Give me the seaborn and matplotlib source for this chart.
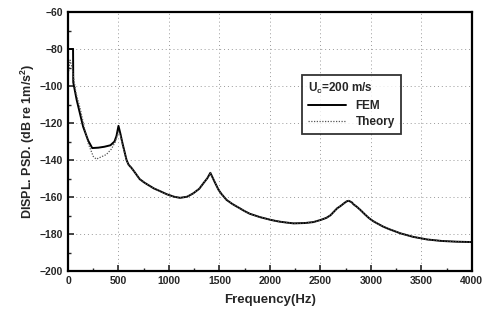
import numpy as np
import pandas as pd
import seaborn as sns
import matplotlib
matplotlib.use("Agg")
import matplotlib.pyplot as plt
from matplotlib.ticker import MultipleLocator

# FEM curve
fem_freq = [0, 50, 52, 86, 150, 200, 240, 300, 360, 420, 460, 480, 500, 520, 540,
            580, 600, 630, 660, 710, 760, 850, 900, 980, 1050, 1110, 1180, 1240, 1300,
            1340, 1380, 1410, 1450, 1490, 1520, 1570, 1630, 1700, 1750, 1800, 1900,
            2000, 2050, 2100, 2170, 2235, 2350, 2430, 2500, 2560, 2600, 2665, 2700,
            2730, 2760, 2781, 2810, 2830, 2860, 2897, 2940, 2980, 3020, 3062, 3120,
            3180, 3240, 3294, 3360, 3420, 3490, 3558, 3630, 3700, 3850, 4000]
fem_db = [-80, -80, -98, -107.5, -122, -129.5, -133.5, -133.3, -132.8, -132, -130,
          -127, -121.5, -126, -131, -140, -142.5, -144.3, -146.5, -150.3, -152.3,
          -155.3, -156.5, -158.5, -159.8, -160.4, -159.8, -158, -155.5, -152.6,
          -149.8, -146.9, -151.5, -156, -158.3, -161.5, -163.8, -166, -167.6, -169,
          -170.8, -172.2, -172.8, -173.3, -173.8, -174.2, -174, -173.5, -172.4,
          -171.2, -169.8, -166.1, -164.8, -163.5, -162.3, -162, -162.8, -164, -165.2,
          -167, -169.3, -171.3, -172.9, -174.2, -175.9, -177.3, -178.5, -179.6,
          -180.6, -181.5, -182.2, -182.9, -183.3, -183.7, -184.1, -184.3]

# Theory curve below ~550 Hz; above that it lies on the FEM curve
theory_low_freq = [0, 20, 40, 80, 120, 160, 200, 250, 280, 320, 380, 430, 470, 500,
                   520, 550]
theory_low_db = [-95, -86, -90, -104, -112, -122, -131, -138, -139.5, -138.5, -137,
                 -134, -130, -124.5, -127, -134]

sns.set_style("ticks")
plt.rcParams['font.family'] = ['Liberation Sans', 'DejaVu Sans']
plt.rcParams['font.weight'] = 'bold'
plt.rcParams['mathtext.fontset'] = 'custom'
plt.rcParams['mathtext.bf'] = 'Liberation Sans:bold'
plt.rcParams['mathtext.rm'] = 'Liberation Sans:bold'

fem = pd.DataFrame({'f': fem_freq, 'db': fem_db})
theory = pd.concat([pd.DataFrame({'f': theory_low_freq, 'db': theory_low_db}),
                    fem[fem['f'] > 570]], ignore_index=True)

fig = plt.figure(figsize=(4.91, 3.12), dpi=100)
ax = fig.add_axes([0.1385, 0.131, 0.8225, 0.8305])

sns.lineplot(data=fem, x='f', y='db', ax=ax, color='black', lw=1.4,
             label='FEM', sort=False, estimator=None)
sns.lineplot(data=theory, x='f', y='db', ax=ax, color='#555555', lw=0.9,
             linestyle=(0, (1, 1.2)), label='Theory', sort=False, estimator=None)

ax.set_xlim(0, 4000)
ax.set_ylim(-200, -60)
ax.xaxis.set_major_locator(MultipleLocator(500))
ax.xaxis.set_minor_locator(MultipleLocator(250))
ax.yaxis.set_major_locator(MultipleLocator(20))
ax.yaxis.set_minor_locator(MultipleLocator(10))
ax.tick_params(which='both', direction='in', top=False, right=False)
ax.tick_params(which='major', length=4, width=1.2, labelsize=7.5)
ax.tick_params(which='minor', length=2, width=1.0)
ax.grid(True, which='major', color='#999999', linestyle=(0, (1, 3)), lw=0.7)
for s in ax.spines.values():
    s.set_linewidth(1.6)
    s.set_color('black')

ax.set_xlabel("Frequency(Hz)", fontsize=9.5, fontweight='bold', labelpad=6)
ax.set_ylabel(r"DISPL. PSD. (dB re 1m/s$^2$)", fontsize=9, fontweight='bold', labelpad=2)

leg = ax.legend(loc='upper left', bbox_to_anchor=(0.566, 0.78), frameon=True,
                fancybox=False, edgecolor='black', fontsize=8.5,
                title=r"U$_\mathbf{c}$=200 m/s", alignment='left',
                handlelength=3.2, borderpad=0.5, labelspacing=0.35)
leg.get_title().set_fontsize(8.5)
leg.get_title().set_fontweight('bold')
leg.get_frame().set_linewidth(1.3)

fig.savefig("out.png", dpi=100)
